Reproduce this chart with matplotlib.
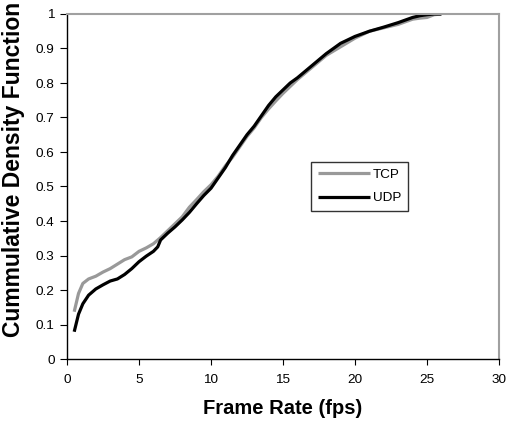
import matplotlib
matplotlib.use("Agg")
import matplotlib.pyplot as plt

tcp_x = [0.5, 0.8, 1.1, 1.5, 2.0, 2.5, 3.0, 3.5, 4.0, 4.5, 5.0, 5.5, 6.0, 6.5, 7.0, 7.5,
         8.0, 8.5, 9.0, 9.5, 10.0, 10.5, 11.0, 11.5, 12.0, 12.5, 13.0, 13.5, 14.0, 14.5,
         15.0, 15.5, 16.0, 17.0, 18.0, 19.0, 20.0, 21.0, 22.0, 23.0, 24.0, 24.5, 25.0,
         25.5, 26.0]
tcp_y = [0.137, 0.19, 0.219, 0.232, 0.240, 0.252, 0.262, 0.275, 0.288, 0.296, 0.312,
         0.322, 0.334, 0.352, 0.372, 0.392, 0.412, 0.440, 0.462, 0.485, 0.505, 0.530,
         0.560, 0.585, 0.615, 0.645, 0.670, 0.700, 0.725, 0.748, 0.770, 0.790, 0.810,
         0.845, 0.880, 0.905, 0.930, 0.950, 0.960, 0.970, 0.985, 0.988, 0.990, 0.998, 1.0]

udp_x = [0.5, 0.8, 1.1, 1.5, 2.0, 2.5, 3.0, 3.5, 4.0, 4.5, 5.0, 5.5, 6.0, 6.3, 6.5, 7.0,
         7.5, 8.0, 8.5, 9.0, 9.5, 10.0, 10.5, 11.0, 11.5, 12.0, 12.5, 13.0, 13.5, 14.0,
         14.5, 15.0, 15.5, 16.0, 17.0, 18.0, 19.0, 20.0, 21.0, 22.0, 23.0, 24.0, 24.5,
         25.0, 25.5, 26.0]
udp_y = [0.079, 0.13, 0.160, 0.185, 0.203, 0.215, 0.226, 0.232, 0.245, 0.262, 0.282,
         0.298, 0.312, 0.325, 0.345, 0.365, 0.383, 0.403, 0.425, 0.450, 0.474, 0.495,
         0.525, 0.555, 0.590, 0.620, 0.650, 0.675, 0.705, 0.735, 0.760, 0.780, 0.800,
         0.815, 0.850, 0.885, 0.915, 0.935, 0.950, 0.962, 0.975, 0.990, 0.995, 0.998,
         1.0, 1.0]

x_ticks = [0, 5, 10, 15, 20, 25, 30]
y_ticks = [0, 0.1, 0.2, 0.3, 0.4, 0.5, 0.6, 0.7, 0.8, 0.9, 1]
y_tick_labels = ["0", "0.1", "0.2", "0.3", "0.4", "0.5", "0.6", "0.7", "0.8", "0.9", "1"]

plt.rcParams['font.family'] = ['Liberation Sans', 'DejaVu Sans']

W, H = 508, 423
fig = plt.figure(figsize=(W / 100, H / 100), dpi=100)
ax = fig.add_axes([67 / W, 1 - 359 / H, (499 - 67) / W, (359 - 14) / H])

ax.plot(tcp_x, tcp_y, color='#999999', lw=2.3, label='TCP', solid_capstyle='butt')
ax.plot(udp_x, udp_y, color='black', lw=2.3, label='UDP', solid_capstyle='butt')

ax.set_xlim(0, 30)
ax.set_ylim(0, 1)
ax.set_xticks(x_ticks)
ax.set_xticklabels([str(v) for v in x_ticks])
ax.set_yticks(y_ticks)
ax.set_yticklabels(y_tick_labels)
ax.tick_params(direction='out', length=5, width=0.8, labelsize=9.7, pad=4)
ax.tick_params(axis='x', length=4, pad=7)

for s in ['left', 'bottom']:
    ax.spines[s].set_color('black')
    ax.spines[s].set_linewidth(1.0)
for s in ['top', 'right']:
    ax.spines[s].set_color('#a0a0a0')
    ax.spines[s].set_linewidth(1.5)

leg = ax.legend(loc='upper left', bbox_to_anchor=(311 / W, 1 - 162 / H),
                bbox_transform=fig.transFigure, fontsize=9.7, frameon=True,
                fancybox=False, handlelength=3.9, handletextpad=0.2,
                borderpad=0.5, labelspacing=0.8, borderaxespad=0)
leg.get_frame().set_edgecolor('black')
leg.get_frame().set_linewidth(1.0)

fig.text(283 / W, 1 - 408 / H, 'Frame Rate (fps)', ha='center', va='center',
         fontsize=14.5, fontweight='bold')
fig.text(14 / W, 1 - 337 / H, 'Cummulative Density Function', rotation=90,
         ha='center', va='bottom', fontsize=16.5, fontweight='bold')

fig.savefig('out.png', dpi=100)
